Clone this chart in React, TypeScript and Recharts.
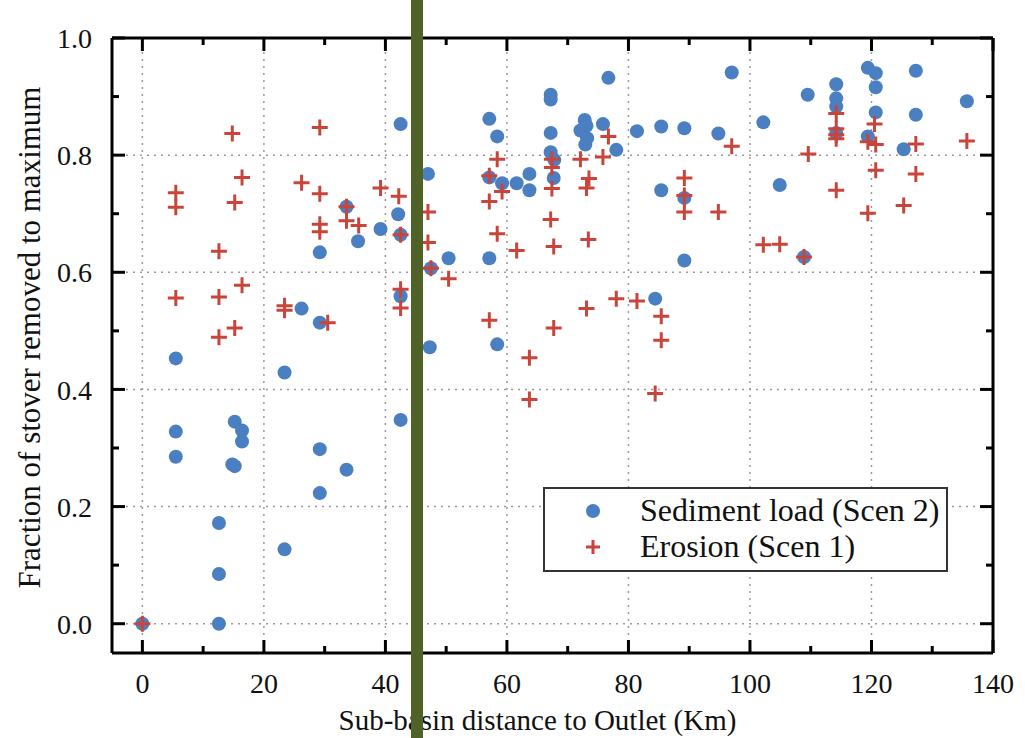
import {
  CartesianGrid,
  Label,
  Legend,
  Scatter,
  ScatterChart,
  XAxis,
  YAxis,
} from 'recharts';

// [distance km, fraction]
const sedimentLoad: [number, number][] = [
  [0, 0], [5.5, 0.453], [5.5, 0.328], [5.5, 0.285], [12.6, 0.172], [12.6, 0.085],
  [12.6, 0.0], [14.8, 0.272], [15.2, 0.269], [15.2, 0.345], [16.4, 0.33], [16.4, 0.311],
  [23.4, 0.429], [23.4, 0.127], [26.2, 0.538], [29.2, 0.514], [29.2, 0.634], [29.2, 0.298],
  [29.2, 0.223], [33.6, 0.712], [33.6, 0.263], [35.5, 0.653], [39.2, 0.674], [42.1, 0.699],
  [42.5, 0.664], [42.5, 0.853], [42.5, 0.559], [42.5, 0.348], [47.0, 0.768], [47.5, 0.607],
  [47.3, 0.472], [50.4, 0.624], [57.1, 0.862], [57.1, 0.762], [57.1, 0.624], [58.4, 0.832],
  [58.4, 0.477], [59.2, 0.752], [61.6, 0.752], [63.7, 0.768], [63.7, 0.74], [67.2, 0.903],
  [67.2, 0.895], [67.2, 0.838], [67.2, 0.805], [67.8, 0.792], [67.7, 0.761], [72.1, 0.842],
  [72.8, 0.86], [73.1, 0.85], [73.2, 0.829], [72.9, 0.818], [75.8, 0.853], [76.7, 0.932],
  [78.0, 0.809], [81.4, 0.841], [84.4, 0.555], [85.4, 0.849], [85.4, 0.74], [89.2, 0.846],
  [89.2, 0.727], [89.2, 0.62], [94.8, 0.837], [97.0, 0.941], [102.2, 0.856], [104.9, 0.749],
  [108.9, 0.626], [109.5, 0.903], [114.2, 0.921], [114.2, 0.897], [114.2, 0.883], [114.2, 0.838],
  [119.4, 0.949], [119.4, 0.832], [120.7, 0.94], [120.7, 0.916], [120.7, 0.873], [125.3, 0.81],
  [127.3, 0.944], [127.3, 0.869], [135.7, 0.892],
];

const erosion: [number, number][] = [
  [0, 0], [5.5, 0.736], [5.5, 0.711], [5.5, 0.556], [12.6, 0.636], [12.6, 0.558],
  [12.6, 0.489], [14.8, 0.837], [15.2, 0.719], [15.2, 0.505], [16.4, 0.762], [16.4, 0.578],
  [23.4, 0.543], [23.4, 0.535], [26.2, 0.753], [29.2, 0.847], [29.2, 0.734], [29.2, 0.682],
  [29.2, 0.669], [30.5, 0.514], [33.6, 0.712], [33.6, 0.688], [35.6, 0.68], [39.2, 0.744],
  [42.2, 0.73], [42.5, 0.664], [42.5, 0.571], [42.5, 0.539], [47.0, 0.703], [47.0, 0.651],
  [47.5, 0.607], [50.4, 0.589], [57.1, 0.765], [57.1, 0.721], [57.1, 0.518], [58.4, 0.793],
  [58.4, 0.666], [59.2, 0.738], [61.6, 0.637], [63.7, 0.454], [63.7, 0.383], [67.4, 0.793],
  [67.4, 0.779], [67.4, 0.743], [67.2, 0.69], [67.7, 0.644], [67.7, 0.505], [72.1, 0.793],
  [73.5, 0.76], [73.1, 0.744], [73.4, 0.656], [73.1, 0.538], [75.8, 0.797], [76.7, 0.832],
  [78.0, 0.555], [81.4, 0.551], [84.4, 0.393], [85.4, 0.525], [85.4, 0.484], [89.2, 0.761],
  [89.2, 0.731], [89.2, 0.703], [94.8, 0.703], [97.0, 0.815], [102.2, 0.647], [104.9, 0.648],
  [108.9, 0.626], [109.6, 0.802], [114.2, 0.871], [114.2, 0.845], [114.2, 0.835], [114.2, 0.828],
  [114.2, 0.74], [119.4, 0.823], [119.4, 0.701], [120.5, 0.853], [120.7, 0.818], [120.7, 0.774],
  [125.3, 0.714], [127.3, 0.819], [127.3, 0.768], [135.7, 0.824],
];

const xTicks = [0, 10, 20, 30, 40, 50, 60, 70, 80, 90, 100, 110, 120, 130, 140];
const xGridTicks = [0, 20, 40, 60, 80, 100, 120, 140];
const yTicks = [0, 0.1, 0.2, 0.3, 0.4, 0.5, 0.6, 0.7, 0.8, 0.9, 1.0];
const yGridTicks = [0, 0.2, 0.4, 0.6, 0.8, 1.0];

const sedimentName = 'Sediment load (Scen 2)';
const erosionName = 'Erosion (Scen 1)';
const xTitle = 'Sub-basin distance to Outlet (Km)';
const yTitle = 'Fraction of stover removed to maximum';

const FONT = '"Liberation Serif", "Times New Roman", "DejaVu Serif", serif';
const BLUE = '#4a7fc2';
const RED = '#c9453b';
const textStyle = { fontFamily: FONT };

const toPoints = (arr: [number, number][]) => arr.map(([x, y]) => ({ x, y }));

const isMajorX = (v: number) => Math.round(v) % 20 === 0;
const isMajorY = (v: number) => Math.round(v * 10) % 2 === 0;

const BottomTick = ({ x, y, payload }: any) => {
  const major = isMajorX(payload.value);
  return (
    <g>
      <line x1={x} x2={x} y1={y} y2={y - (major ? 13 : 7)} stroke="#000" strokeWidth={3} />
      {major && (
        <text x={x} y={y + 40} textAnchor="middle" style={textStyle} fontSize={28} fill="#111">
          {payload.value}
        </text>
      )}
    </g>
  );
};

const TopTick = ({ x, y, payload }: any) => {
  const major = isMajorX(payload.value);
  return <line x1={x} x2={x} y1={y} y2={y + (major ? 13 : 7)} stroke="#000" strokeWidth={3} />;
};

const LeftTick = ({ x, y, payload }: any) => {
  const major = isMajorY(payload.value);
  return (
    <g>
      <line x1={x} x2={x + (major ? 13 : 7)} y1={y} y2={y} stroke="#000" strokeWidth={3} />
      {major && (
        <text
          x={x - 20}
          y={y}
          dy="0.36em"
          textAnchor="end"
          style={textStyle}
          fontSize={28}
          fill="#111"
        >
          {payload.value.toFixed(1)}
        </text>
      )}
    </g>
  );
};

const RightTick = ({ x, y, payload }: any) => {
  const major = isMajorY(payload.value);
  return <line x1={x} x2={x - (major ? 13 : 7)} y1={y} y2={y} stroke="#000" strokeWidth={3} />;
};

const XTitle = ({ viewBox }: any) => (
  <text
    x={viewBox.x + viewBox.width / 2 - 15}
    y={viewBox.y + 77}
    textAnchor="middle"
    style={textStyle}
    fontSize={29}
    fill="#111"
  >
    {xTitle}
  </text>
);

const YTitle = ({ viewBox }: any) => {
  const cx = viewBox.x + 40;
  const cy = viewBox.y + viewBox.height / 2 - 8;
  return (
    <text
      x={cx}
      y={cy}
      transform={`rotate(-90 ${cx} ${cy})`}
      textAnchor="middle"
      style={textStyle}
      fontSize={31}
      fill="#111"
    >
      {yTitle}
    </text>
  );
};

const Dot = ({ cx, cy }: any) => <circle cx={cx} cy={cy} r={7} fill={BLUE} />;

const Plus = ({ cx, cy }: any) => (
  <path d={`M${cx - 8},${cy}h16M${cx},${cy - 8}v16`} stroke={RED} strokeWidth={3} fill="none" />
);

const LegendBox = () => (
  <div
    style={{
      width: '100%',
      height: '100%',
      boxSizing: 'border-box',
      border: '2px solid #333',
      background: '#fff',
    }}
  >
    <svg width={401} height={81} style={{ display: 'block' }}>
      <circle cx={48} cy={22} r={7} fill={BLUE} />
      <text x={95} y={32} style={textStyle} fontSize={32} fill="#111">
        {sedimentName}
      </text>
      <path d="M41,58h14M48,51v14" stroke={RED} strokeWidth={3} />
      <text x={95} y={68} style={textStyle} fontSize={32} fill="#111">
        {erosionName}
      </text>
    </svg>
  </div>
);

export default function App() {
  return (
    <div
      style={{
        position: 'absolute',
        left: 0,
        top: 0,
        width: 1025,
        height: 738,
        background: '#fff',
        overflow: 'hidden',
        fontFamily: FONT,
      }}
    >
      <ScatterChart width={1025} height={738} margin={{ top: 37, right: 31, bottom: 0, left: 0 }}>
        <XAxis
          xAxisId="gx"
          dataKey="x"
          type="number"
          domain={[-5, 140]}
          ticks={xGridTicks}
          hide
          height={0}
          allowDataOverflow
        />
        <YAxis
          yAxisId="gy"
          dataKey="y"
          type="number"
          domain={[-0.05, 1.0]}
          ticks={yGridTicks}
          hide
          width={0}
          allowDataOverflow
        />
        <CartesianGrid
          xAxisId="gx"
          yAxisId="gy"
          stroke="#9a9a9a"
          strokeWidth={1.5}
          strokeDasharray="2 5"
        />
        <XAxis
          xAxisId="x"
          dataKey="x"
          type="number"
          domain={[-5, 140]}
          ticks={xTicks}
          interval={0}
          allowDataOverflow
          height={85}
          tickSize={0}
          tickMargin={0}
          tickLine={false}
          axisLine={{ stroke: '#000', strokeWidth: 3 }}
          tick={<BottomTick />}
        >
          <Label content={<XTitle />} />
        </XAxis>
        <XAxis
          xAxisId="top"
          orientation="top"
          dataKey="x"
          type="number"
          domain={[-5, 140]}
          ticks={xTicks}
          interval={0}
          allowDataOverflow
          height={1}
          tickSize={0}
          tickMargin={0}
          tickLine={false}
          axisLine={{ stroke: '#000', strokeWidth: 3 }}
          tick={<TopTick />}
        />
        <YAxis
          yAxisId="y"
          dataKey="y"
          type="number"
          domain={[-0.05, 1.0]}
          ticks={yTicks}
          interval={0}
          allowDataOverflow
          width={112}
          tickSize={0}
          tickMargin={0}
          tickLine={false}
          axisLine={{ stroke: '#000', strokeWidth: 3 }}
          tick={<LeftTick />}
        >
          <Label content={<YTitle />} />
        </YAxis>
        <YAxis
          yAxisId="right"
          orientation="right"
          dataKey="y"
          type="number"
          domain={[-0.05, 1.0]}
          ticks={yTicks}
          interval={0}
          allowDataOverflow
          width={1}
          tickSize={0}
          tickMargin={0}
          tickLine={false}
          axisLine={{ stroke: '#000', strokeWidth: 3 }}
          tick={<RightTick />}
        />
        <Scatter
          name={sedimentName}
          data={toPoints(sedimentLoad)}
          xAxisId="x"
          yAxisId="y"
          fill={BLUE}
          shape={<Dot />}
          isAnimationActive={false}
        />
        <Scatter
          name={erosionName}
          data={toPoints(erosion)}
          xAxisId="x"
          yAxisId="y"
          fill={RED}
          shape={<Plus />}
          isAnimationActive={false}
        />
        <Legend
          layout="vertical"
          align="center"
          verticalAlign="middle"
          wrapperStyle={{ left: 543, top: 487, width: 405, height: 85 }}
          content={<LegendBox />}
        />
      </ScatterChart>
      <div
        style={{
          position: 'absolute',
          left: 411,
          top: 0,
          width: 12,
          height: 738,
          background: '#4f6228',
        }}
      />
    </div>
  );
}
